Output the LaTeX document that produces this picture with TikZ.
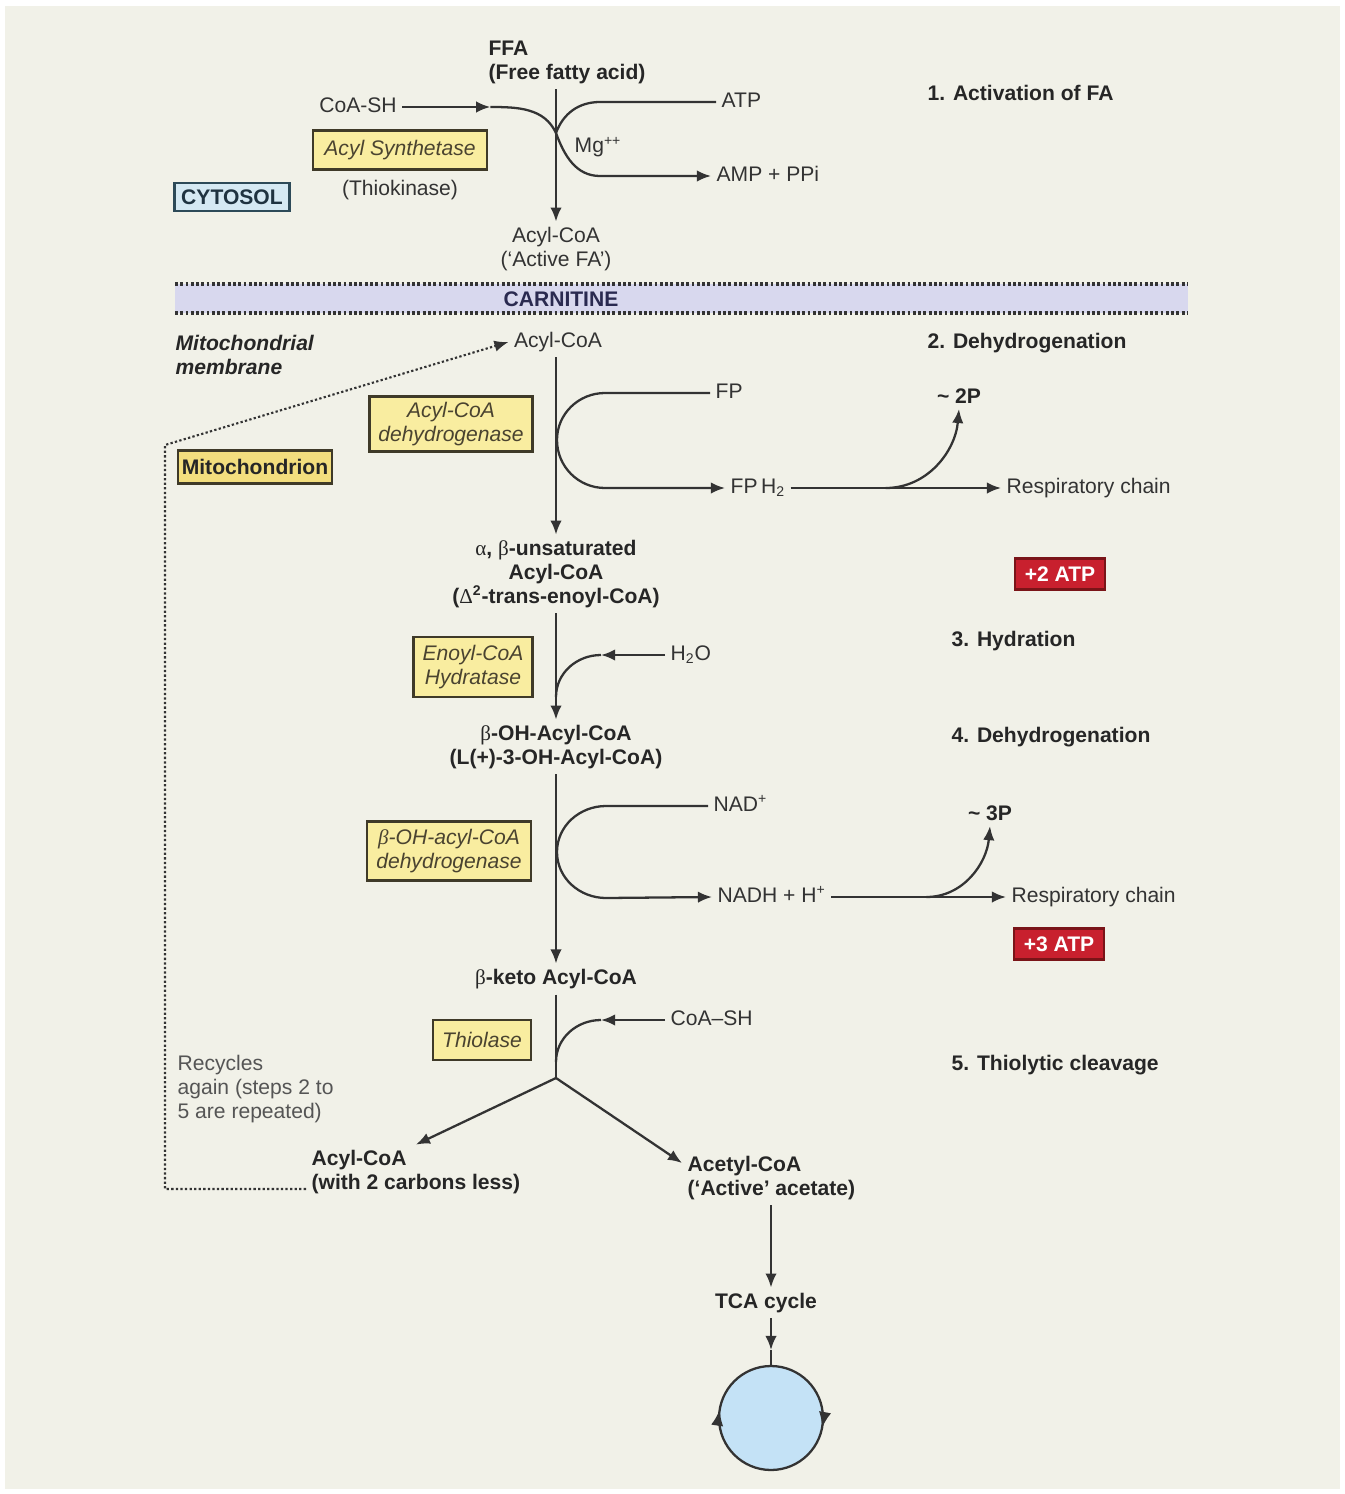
\documentclass[tikz,border=0pt]{standalone}
\usepackage{fontspec}
\setmainfont{Liberation Sans}
\newfontfamily\grk{Liberation Serif}
\usepackage{tikz}
\usetikzlibrary{positioning,arrows.meta,decorations.markings}
\usepackage{xcolor}
\definecolor{bgc}{HTML}{F1F1E8}
\definecolor{ink}{HTML}{333333}
\definecolor{inkb}{HTML}{262626}
\definecolor{inkl}{HTML}{555555}
\definecolor{enzy}{HTML}{F9EDA0}
\definecolor{mitf}{HTML}{F3DE7E}
\definecolor{boxln}{HTML}{3F3A28}
\definecolor{enzt}{HTML}{4A4330}
\definecolor{cytf}{HTML}{D5E9F3}
\definecolor{cytln}{HTML}{2D4A58}
\definecolor{cytt}{HTML}{1F3340}
\definecolor{carn}{HTML}{D8D8EE}
\definecolor{carnt}{HTML}{2A2A50}
\definecolor{atpred}{HTML}{C8202E}
\definecolor{atpln}{HTML}{7A1418}
\definecolor{tcaf}{HTML}{C4E2F6}
\newcommand{\fsz}{\fontsize{12}{13.6}\selectfont}

\begin{document}
\begin{tikzpicture}[x=0.02cm,y=-0.02cm,
  every node/.style={font=\fsz,text=ink,inner sep=3pt},
  bld/.style={font=\fsz\bfseries,text=inkb},
  lbl/.style={text height=1.6ex,text depth=.45ex},
  enz/.style={draw=boxln,fill=enzy,line width=1.2pt,font=\fsz\itshape,text=enzt,align=center,inner sep=2pt},
  gain/.style={draw=atpln,fill=atpred,line width=1.2pt,font=\fsz\bfseries,text=white,minimum width=1.8cm,minimum height=0.62cm},
  rxn/.style={line width=1.3pt,draw=ink},
  flow/.style={rxn,-{Latex[length=8pt,width=6.5pt]}},
  recyc/.style={line width=1.2pt,draw=ink,dash pattern=on 1.3pt off 1.3pt,-{Latex[length=8pt,width=6.5pt]}},
  memb/.style={line width=1.8pt,draw=ink,dash pattern=on 1.6pt off 1.4pt}]
\useasboundingbox (0,0) rectangle (1345,1494);
\fill[white] (0,0) rectangle (1345,1494);
\fill[bgc] (5,6) rectangle (1340,1489);

% membrane band
\fill[carn] (175,284) rectangle (1188,313);
\draw[memb] (175,284) -- (1188,284);
\draw[memb] (175,313) -- (1188,313);
\node[bld,text=carnt] (carnit) at (561,299) {CARNITINE};

% step 1: activation
\node[bld,align=left] (ffa) at (567,62) {FFA\\(Free fatty acid)};
\node[lbl] (coash1) at (358,107) {CoA-SH};
\node[lbl,anchor=west] (atp) at (716,102) {ATP};
\node[lbl,anchor=west] (amp) at (711,176) {AMP + PPi};
\node (mg) at (598,147) {Mg\textsuperscript{++}};
\node[enz,minimum width=3.48cm,minimum height=0.78cm] (synth) at (400,150) {Acyl Synthetase};
\node (thk) at (400,190) {(Thiokinase)};
\node[bld,draw=cytln,fill=cytf,text=cytt,line width=1.2pt,minimum width=2.3cm,minimum height=0.56cm,inner sep=1pt] (cyto) at (232,197) {CYTOSOL};
\node[align=center] (acyl1) at (556,249) {Acyl-CoA\\(‘Active FA’)};
\node[bld,anchor=west] (st1) at (922,93) {1. Activation of FA};
\coordinate (jn) at (556,133);
\draw[flow] (ffa.south -| acyl1) -- (acyl1);
\draw[flow] (coash1.east) -- ++(88,0) coordinate (c1);
\draw[rxn] (c1) to[out=0,in=115] (jn);
\draw[rxn] (atp.west) -- ++(-116,0) to[out=180,in=70] (jn);
\draw[flow] (jn) to[out=-70,in=180] ++(44,43) -- (amp.west);

% step 2: dehydrogenation
\node[bld,font=\fsz\bfseries\itshape,align=left,anchor=west] (mmem) at (170,355) {Mitochondrial\\membrane};
\node (acyl2) at (558,342) {Acyl-CoA};
\node[bld,anchor=west] (st2) at (922,343) {2. Dehydrogenation};
\node[enz,minimum width=3.26cm,minimum height=1.1cm] (acdh) at (451,424) {Acyl-CoA\\dehydrogenase};
\node[enz,font=\fsz\bfseries,text=inkb,fill=mitf,minimum width=3.08cm,minimum height=0.66cm] (mito) at (255,467) {Mitochondrion};
\node[lbl,anchor=west] (fp) at (710,393) {FP};
\node[lbl,anchor=west] (fph2) at (725,488) {FP\,H\textsubscript{2}};
\node[lbl,anchor=west] (resp1) at (1001,488) {Respiratory chain};
\node[bld] (p2) at (959,396) {\textasciitilde\ 2P};
\node[gain] (atp2) at (1060,574) {+2 ATP};
\node[bld,align=center] (unsat) at (556,574) {{\grk\mdseries α}, {\grk\mdseries β}-unsaturated\\Acyl-CoA\\({\grk\mdseries Δ}\textsuperscript{2}-trans-enoyl-CoA)};
\draw[flow] (acyl2.south -| unsat) -- (unsat);
\draw[flow] (fp.west) -- ++(-105,0) to[out=180,in=90] ++(-48,47) to[out=-90,in=180] ++(48,48) -- (fph2.west);
\draw[flow] (fph2.east) -- (resp1.west);
\draw[flow] ([xshift=1.9cm]fph2.east) to[out=0,in=-95] (p2.south);

% step 3: hydration
\node[enz,minimum width=2.38cm,minimum height=1.2cm] (enoyl) at (473,667) {Enoyl-CoA\\Hydratase};
\node[lbl,anchor=west] (h2o) at (665,655) {H\textsubscript{2}O};
\node[bld,anchor=west] (st3) at (946,641) {3. Hydration};
\node[bld,align=center] (ohacyl) at (556,747) {{\grk\mdseries β}-OH-Acyl-CoA\\(L(+)-3-OH-Acyl-CoA)};
\draw[flow] (unsat) -- (ohacyl);
\draw[flow] (h2o.west) -- ++(-64,0) coordinate (w1);
\draw[rxn] (w1) to[out=180,in=90] ++(-45,42);

% step 4: dehydrogenation
\node[bld,anchor=west] (st4) at (946,737) {4. Dehydrogenation};
\node[enz,minimum width=3.28cm,minimum height=1.18cm] (ohdh) at (449,851) {{\grk β}-OH-acyl-CoA\\dehydrogenase};
\node[lbl,anchor=west] (nad) at (708,806) {NAD\textsuperscript{+}};
\node[lbl,anchor=west] (nadh) at (712,897) {NADH + H\textsuperscript{+}};
\node[lbl,anchor=west] (resp2) at (1006,897) {Respiratory chain};
\node[bld] (p3) at (990,813) {\textasciitilde\ 3P};
\node[gain] (atp3) at (1059,944) {+3 ATP};
\node[bld] (keto) at (556,979) {{\grk\mdseries β}-keto Acyl-CoA};
\draw[flow] (ohacyl) -- (keto);
\draw[flow] (nad.west) -- ++(-102,0) to[out=180,in=90] ++(-49,46) to[out=-90,in=180] ++(49,46) -- (nadh.west);
\draw[flow] (nadh.east) -- (resp2.west);
\draw[flow] ([xshift=1.9cm]nadh.east) to[out=0,in=-95] (p3.south);

% step 5: thiolytic cleavage
\node[enz,minimum width=1.96cm,minimum height=0.8cm] (thiol) at (482,1040) {Thiolase};
\node[lbl,anchor=west] (coash2) at (665,1020) {CoA–SH};
\node[bld,anchor=west] (st5) at (946,1065) {5. Thiolytic cleavage};
\node[align=left,anchor=west,text=inkl] (recyc) at (172,1089) {Recycles\\again (steps 2 to\\5 are repeated)};
\coordinate (split) at (556,1078);
\draw[rxn] (keto) -- (split);
\draw[flow] (coash2.west) -- ++(-64,0) coordinate (w2);
\draw[rxn] (w2) to[out=180,in=90] ++(-45,42);
\node[bld,align=left,anchor=west] (acylless) at (306,1172) {Acyl-CoA\\(with 2 carbons less)};
\node[bld,align=left,anchor=west] (acetyl) at (682,1178) {Acetyl-CoA\\(‘Active’ acetate)};
\draw[flow] (split) -- (acylless.north);
\draw[flow] (split) -- ([yshift=0.3cm]acetyl.west);
\coordinate (rb) at (165,1189);
\coordinate (rt) at (165,445);
\draw[recyc] (acylless.west |- rb) -- (rb) -- (rt) -- (acyl2.west);

% TCA cycle
\node[bld] (tca) at (766,1303) {TCA cycle};
\node[circle,draw=ink,fill=tcaf,line width=1.3pt,minimum size=2.08cm,postaction={decorate},
  decoration={markings,
    mark=at position 0.475 with {\arrowreversed{Latex[length=9pt,width=7pt]}},
    mark=at position 0.97 with {\arrowreversed{Latex[length=9pt,width=7pt]}}}] (krebs) at (771,1418) {};
\coordinate (tin) at (771,1350);
\draw[flow] (acetyl.south -| krebs) -- (tca.north -| krebs);
\draw[flow] (tca.south -| krebs) -- (tin);
\draw[rxn] (tin) -- (krebs);
\end{tikzpicture}
\end{document}
